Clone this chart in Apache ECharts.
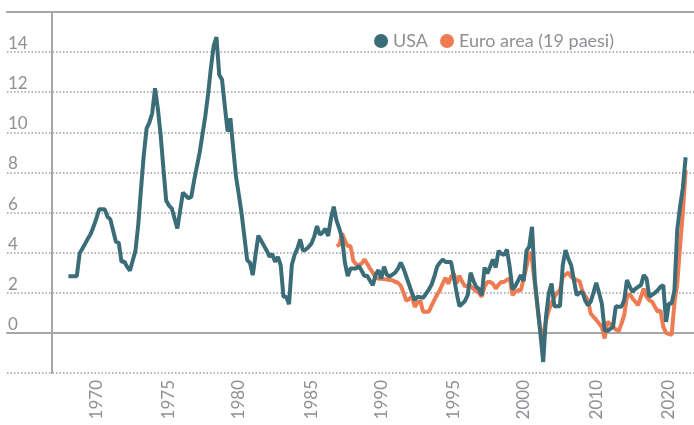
<!DOCTYPE html>
<html>
<head>
<meta charset="utf-8">
<script src="https://cdn.jsdelivr.net/npm/echarts@6/dist/echarts.min.js"></script>
<style>
  html, body { margin: 0; padding: 0; background: #fff; }
  #chart { width: 694px; height: 425px; }
</style>
</head>
<body>
<div id="chart"></div>
<script>
// quarterly inflation (%), index 0 = first quarter shown
const usa = [
  2.83, 2.83, 2.83, 2.83, 3.96, 4.21, 4.45, 4.71, 4.94, 5.3,
  5.71, 6.16, 6.16, 6.16, 5.79, 5.66, 5.1, 4.54, 4.5, 3.54,
  3.56, 3.3, 3.1, 3.6, 4.1, 5.4, 7.2, 8.9, 10.2, 10.5,
  10.95, 12.2, 11.2, 9.9, 8.2, 6.6, 6.35, 6.21, 5.7, 5.21,
  6.1, 7.0, 6.85, 6.71, 6.79, 7.6, 8.3, 9.0, 9.9, 10.8,
  11.9, 13.2, 14.3, 14.75, 12.87, 12.62, 11.3, 10.04, 10.7, 9.2,
  7.79, 6.9, 5.96, 4.8, 3.63, 3.5, 2.88, 3.9, 4.85, 4.6,
  4.35, 4.1, 3.8, 3.93, 3.54, 3.79, 3.38, 1.8, 1.8, 1.43,
  3.4, 3.9, 4.21, 4.66, 4.1, 4.15, 4.29, 4.45, 4.8, 5.33,
  4.9, 5.0, 5.2, 4.83, 5.7, 6.29, 5.6, 5.2, 4.71, 3.5,
  2.83, 3.21, 3.21, 3.21, 3.33, 3.1, 2.83, 2.85, 2.6, 2.38,
  2.9, 3.13, 2.71, 3.3, 2.9, 2.8, 2.9, 3.0, 3.2, 3.5,
  3.2, 2.8, 2.4, 2.0, 1.63, 1.8, 1.78, 1.75, 1.95, 2.15,
  2.4, 2.8, 3.3, 3.5, 3.66, 3.54, 3.54, 3.54, 2.8, 2.0,
  1.33, 1.45, 1.6, 1.9, 3.0, 2.6, 2.3, 2.2, 1.88, 3.26,
  2.96, 3.3, 3.66, 3.26, 4.09, 3.95, 3.88, 4.16, 3.29, 2.17,
  2.33, 2.6, 2.88, 2.58, 4.09, 4.3, 5.29, 2.63, 1.3, -0.03,
  -1.45, 0.8, 1.97, 2.46, 1.33, 1.33, 1.33, 3.38, 4.13, 3.7,
  3.38, 2.63, 1.88, 2.0, 2.05, 1.63, 1.38, 1.55, 2.0, 2.5,
  2.0, 1.46, 0.13, 0.1, 0.2, 0.3, 1.33, 1.3, 1.3, 1.63,
  2.63, 2.3, 2.05, 2.2, 2.3, 2.38, 2.88, 2.71, 1.8, 1.9,
  2.0, 2.13, 2.3, 2.38, 0.55, 1.46, 1.46, 2.13, 5.13, 6.29,
  7.21, 8.76
];

// euro area starts later
const euroStart = 96;
const euro = [
  4.33, 4.4, 4.96, 4.6,
  4.33, 4.33, 3.6, 3.42, 3.38, 3.46, 3.67, 3.45, 3.2, 3.0,
  2.75, 2.7, 2.7, 2.68, 2.66, 2.64, 2.63, 2.55, 2.5, 2.35,
  2.0, 1.6, 1.7, 1.8, 1.3, 1.5, 1.6, 1.05, 1.05, 1.05,
  1.35, 1.63, 1.9, 2.13, 2.45, 2.75, 2.45, 2.8, 2.96, 2.46,
  2.85, 2.55, 2.33, 2.35, 2.35, 2.2, 2.08, 2.0, 1.8, 2.3,
  2.54, 2.54, 2.45, 2.21, 2.4, 2.54, 2.54, 2.65, 2.71, 1.88,
  2.05, 2.13, 2.13, 2.7, 3.29, 4.04, 3.6, 2.5, 1.2, 0.1,
  -0.1, 0.6, 1.13, 1.5, 1.8, 2.0, 2.13, 2.79, 2.9, 3.0,
  2.79, 2.7, 2.63, 2.58, 2.1, 1.85, 1.63, 0.97, 0.8, 0.65,
  0.47, 0.3, -0.28, 0.55, 0.45, 0.3, 0.17, 0.08, 0.45, 0.88,
  1.8, 1.95, 1.71, 1.55, 1.38, 1.8, 2.21, 1.8, 1.63, 1.55,
  1.3, 1.05, 1.13, 0.3, 0.0, -0.05, -0.1, 1.5, 2.46, 4.3,
  6.0, 8.12
];

// x tick labels as they appear on the original, and the quarter each sits on
const xTickLabels = ['1970', '1975', '1980', '1985', '1990', '1995', '2000', '2010', '2020'];
const xTickAt = [10, 36, 61, 87, 112, 138, 163, 189, 215];
const yTickLabels = [0, 2, 4, 6, 8, 10, 12, 14];

const chart = echarts.init(document.getElementById('chart'));

const grey = '#a6a6ab';
const textGrey = '#8f8f95';
const font = 'Lato, "Open Sans", sans-serif';

chart.setOption({
  animation: false,
  grid: { left: 7, right: 0, top: 12, bottom: 52, containLabel: false, outerBoundsMode: 'none' },
  legend: {
    data: ['USA', 'Euro area (19 paesi)'],
    icon: 'circle',
    itemWidth: 14,
    itemHeight: 14,
    itemGap: 12,
    top: 27,
    right: 75,
    textStyle: { color: textGrey, fontSize: 18, fontFamily: font }
  },
  xAxis: [
    {
      type: 'value',
      min: -22,
      max: 224,
      splitLine: { show: false },
      axisTick: { show: false },
      axisLine: { show: true, onZero: true, lineStyle: { color: grey, width: 2 } },
      axisLabel: {
        customValues: xTickAt,
        formatter: v => xTickLabels[xTickAt.indexOf(v)] || '',
        rotate: 90,
        margin: 7,
        color: textGrey,
        fontSize: 17,
        fontFamily: font
      }
    },
    {
      type: 'value',
      position: 'top',
      min: -22,
      max: 224,
      splitLine: { show: false },
      axisTick: { show: false },
      axisLabel: { show: false },
      axisLine: { show: true, onZero: false, lineStyle: { color: grey, width: 2 } }
    }
  ],
  yAxis: {
    type: 'value',
    min: -2,
    max: 16,
    interval: 2,
    offset: -45,
    axisLine: { show: true, onZero: false, lineStyle: { color: grey, width: 2 } },
    axisTick: { show: false },
    splitLine: { show: true, lineStyle: { color: '#9e9ea3', width: 1.5, type: [1.5, 2] } },
    axisLabel: {
      customValues: yTickLabels,
      align: 'left',
      verticalAlign: 'bottom',
      margin: 44,
      color: textGrey,
      fontSize: 17,
      fontFamily: font
    }
  },
  series: [
    {
      name: 'Euro area (19 paesi)',
      type: 'line',
      showSymbol: false,
      color: '#ef7b53',
      lineStyle: { width: 4 },
      data: euro.map((v, i) => [i + euroStart, v])
    },
    {
      name: 'USA',
      type: 'line',
      showSymbol: false,
      color: '#3b6d79',
      lineStyle: { width: 4 },
      data: usa.map((v, i) => [i, v])
    }
  ]
});
</script>
</body>
</html>
